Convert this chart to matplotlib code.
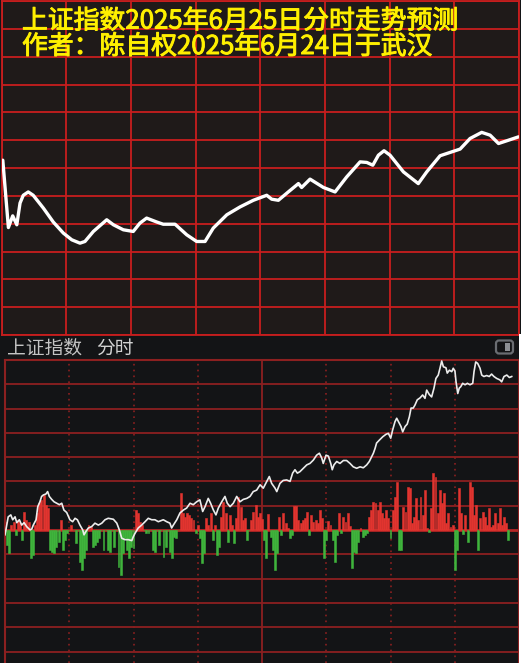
import matplotlib
matplotlib.use("Agg")
import matplotlib.pyplot as plt
import matplotlib.patheffects as pe
from matplotlib.patches import FancyBboxPatch, Rectangle
from matplotlib.transforms import IdentityTransform

plt.rcParams['font.family'] = ['Noto Sans CJK SC', 'DejaVu Sans']

# ---- forecast curve (top panel): minute of session, index points
top_min = [0.6, 3.2, 5.2, 7.1, 8.6, 10.1, 12.4, 14.7, 19.4, 24.0, 28.7, 32.6,
           36.4, 38.7, 42.6, 48.8, 51.9, 56.5, 61.1, 64.2, 67.3, 72.0, 75.0,
           80.5, 85.9, 90.5, 94.4, 98.2, 104.5, 110.6, 116.8, 123.0, 125.3,
           128.4, 133.0, 137.7, 139.2, 143.1, 149.3, 154.7, 160.1, 166.3,
           169.4, 172.2, 174.8, 177.4, 180.2, 186.4, 193.3, 197.2, 203.4,
           212.7, 217.3, 222.7, 226.6, 230.5, 234.4, 239.8]
top_price = [3421.4, 3409.3, 3411.4, 3409.8, 3413.7, 3415.1, 3415.7, 3415.1,
             3412.8, 3410.3, 3408.3, 3407.1, 3406.5, 3406.8, 3408.6, 3410.7,
             3409.8, 3408.9, 3408.6, 3410.1, 3411.0, 3410.3, 3409.9, 3409.9,
             3408.0, 3406.8, 3406.8, 3409.2, 3411.6, 3413.0, 3414.2, 3415.1,
             3414.4, 3414.2, 3415.7, 3417.2, 3416.5, 3418.0, 3416.5, 3415.7,
             3418.4, 3421.1, 3421.0, 3420.5, 3422.3, 3423.1, 3422.3, 3419.3,
             3417.2, 3419.3, 3422.2, 3423.4, 3425.3, 3426.4, 3425.9, 3424.4,
             3424.9, 3425.6]

# ---- actual intraday line (bottom panel)
bot_min = [0, 1.5, 2.7, 3.6, 4.7, 5.5, 6.7, 7.8, 8.9, 10.1, 11.7, 12.5, 13.2,
           14.5, 15.3, 16.3, 17.1, 17.9, 19.1, 19.9, 20.7, 21.8, 22.9, 24.1,
           25.4, 26.5, 27.5, 28.8, 30.3, 31.6, 32.7, 33.8, 35.0, 36.3, 36.9,
           37.8, 38.9, 40.5, 42.0, 43.6, 45.2, 46.7, 48.2, 50.6, 52.2, 53.4,
           54.5, 56.0, 57.6, 59.2, 59.9, 60.7, 62.2, 63.8, 65.4, 66.9, 68.5,
           70.0, 71.6, 73.9, 75.5, 77.0, 77.8, 78.6, 80.2, 81.7, 83.3, 84.8,
           86.4, 87.9, 89.5, 91.0, 92.3, 93.4, 94.9, 96.0, 97.3, 98.5, 99.6,
           101.2, 102.7, 103.8, 105.1, 106.6, 108.2, 109.7, 111.3, 112.9,
           114.4, 115.9, 117.5, 119.1, 120.6, 122.2, 123.4, 124.5, 126.1,
           126.9, 128.4, 129.9, 131.5, 133.1, 134.3, 135.4, 136.5, 137.7,
           139.3, 140.9, 142.4, 144.0, 145.5, 146.8, 147.9, 148.6, 149.9,
           151.0, 152.1, 152.8, 153.6, 154.9, 156.4, 158.0, 159.5, 161.1,
           162.6, 164.2, 165.8, 167.3, 168.9, 170.1, 171.2, 172.0, 172.8,
           173.5, 174.8, 176.4, 177.9, 179.0, 180.1, 181.0, 182.1, 182.9,
           184.1, 184.9, 185.7, 186.8, 187.8, 188.8, 189.6, 190.6, 191.4,
           192.5, 193.8, 195.0, 196.1, 196.9, 198.1, 199.2, 200.3, 201.2,
           202.3, 203.1, 203.9, 204.7, 205.9, 206.5, 207.5, 208.6, 209.3,
           210.1, 210.6, 211.4, 212.1, 212.8, 213.7, 214.8, 215.9, 217.1,
           218.4, 219.0, 219.8, 220.7, 221.8, 222.6, 223.6, 224.9, 226.1,
           227.2, 228.3, 229.6, 231.1, 231.9, 233.0, 234.3, 235.5, 236.6]
bot_price = [3388.5, 3392.2, 3392.6, 3391.6, 3392.2, 3391.0, 3391.6, 3390.5,
             3391.0, 3390.2, 3389.5, 3389.7, 3390.5, 3391.6, 3394.3, 3395.3,
             3396.4, 3396.7, 3396.9, 3397.4, 3396.4, 3395.8, 3395.3, 3395.0,
             3394.7, 3395.0, 3393.6, 3393.1, 3391.6, 3391.2, 3391.9, 3391.6,
             3390.5, 3389.5, 3388.5, 3389.2, 3389.9, 3390.2, 3390.9, 3390.5,
             3390.9, 3391.6, 3391.9, 3391.7, 3390.9, 3389.5, 3387.8, 3387.5,
             3387.5, 3387.3, 3388.1, 3388.8, 3389.9, 3390.5, 3391.2, 3391.9,
             3391.6, 3391.6, 3391.2, 3391.6, 3391.2, 3390.9, 3389.9, 3390.5,
             3391.6, 3393.0, 3393.6, 3394.0, 3395.0, 3394.7, 3395.3, 3395.7,
             3393.3, 3394.3, 3396.0, 3395.0, 3393.6, 3392.6, 3394.0, 3395.3,
             3396.4, 3395.0, 3394.3, 3395.0, 3396.4, 3395.3, 3395.8, 3396.0,
             3396.4, 3397.4, 3397.7, 3398.8, 3398.1, 3399.5, 3400.5, 3399.1,
             3398.1, 3397.4, 3399.1, 3399.7, 3399.8, 3399.5, 3401.2, 3401.9,
             3401.2, 3401.5, 3402.2, 3402.9, 3403.2, 3403.9, 3404.9, 3405.3,
             3404.3, 3403.2, 3404.9, 3404.7, 3403.2, 3401.9, 3402.9, 3403.6,
             3403.2, 3403.8, 3403.8, 3403.2, 3402.5, 3402.2, 3402.5, 3402.3,
             3402.9, 3403.6, 3404.6, 3405.3, 3406.3, 3407.4, 3408.0, 3408.7,
             3409.2, 3409.4, 3408.4, 3410.1, 3411.8, 3412.5, 3411.5, 3410.8,
             3409.7, 3410.8, 3411.3, 3412.8, 3414.6, 3414.6, 3415.2, 3416.3,
             3416.7, 3417.3, 3416.6, 3418.3, 3417.4, 3416.9, 3418.7, 3420.7,
             3421.4, 3422.8, 3424.3, 3423.1, 3422.9, 3421.8, 3422.4, 3422.1,
             3422.8, 3422.2, 3420.0, 3417.6, 3418.7, 3419.0, 3419.7, 3419.4,
             3419.7, 3419.4, 3419.7, 3422.1, 3424.1, 3423.8, 3422.8, 3421.4,
             3421.1, 3421.3, 3421.1, 3421.6, 3421.1, 3420.7, 3420.4, 3420.0,
             3421.1, 3421.4, 3420.9, 3421.1]

# ---- per-minute bars (positive red, negative green), minute 0..235
bar_vals = [3.3, -6.2, -9.5, 2.1, 3.3, -2.1, 4.1, 2.9, -4.1, 7.4,
            4.1, 3.3, -11.5, -10.3, 2.1, 7.0, 11.1, 12.3, 14.4, 10.3,
            9.1, -8.2, -9.1, -9.5, -7.0, -4.9, 4.1, -8.2, -4.1, -1.2,
            0, 2.1, 0, -5.3, 0, -13.2, -16.5, -11.5, -8.2, 2.1,
            1.2, -7.0, -6.2, -4.9, -3.3, 0, -8.2, 0, -8.2, -9.1,
            0, -7.0, 0, -15.2, -18.5, -9.5, -3.3, -8.2, -11.5, -7.0,
            -7.4, 8.2, 7.0, 3.3, 2.1, 0, -1.2, -1.2, 0, -8.2,
            -9.1, 0, -6.2, 0, -11.1, -7.0, 0, -9.1, -11.5, -2.9,
            -3.3, 0, 15.2, 7.0, 5.3, 7.0, 6.2, 4.9, 4.1, -1.2,
            2.1, -3.3, -13.6, -9.5, 4.9, 2.1, 7.0, -4.1, 2.1, -10.3,
            -7.0, 5.3, 11.5, 7.0, -4.9, 6.2, 2.1, -5.3, 4.9, 13.6,
            9.5, 4.1, 4.9, -4.1, 0, 4.1, 7.4, 10.3, 5.3, 7.0,
            4.5, -4.1, -11.5, 6.6, -2.9, -8.2, -16.5, -9.5, 5.3, -2.1,
            7.0, 2.9, 0.8, -3.3, -2.1, 9.9, 9.9, 4.1, 2.9, 4.1,
            4.9, 7.4, -2.1, 6.2, 3.3, 4.1, 2.9, 8.2, 4.9, -11.5,
            -4.1, 3.7, 2.1, -4.1, -13.2, -2.1, 7.0, -1.2, 5.3, 3.3,
            7.0, 1.6, -15.6, -9.1, -9.5, -4.9, 0.8, -2.9, -2.1, -1.2,
            5.3, 8.2, 11.5, 11.1, 8.2, 11.5, 7.0, 4.9, 8.2, 4.9,
            -3.3, 8.2, 13.6, 19.8, -8.2, -8.2, 9.5, 7.4, 17.7, 17.3,
            2.9, 5.3, 13.2, 4.1, 13.6, 6.2, 16.5, 0.8, -0.8, 9.1,
            23.5, 21.8, 7.0, 16.5, 11.1, 15.2, 2.9, 7.0, 1.2, 2.1,
            -16.5, -8.2, 17.3, 7.0, -1.6, 6.2, -4.9, 19.8, 17.7, 6.2,
            10.3, -8.2, 4.9, 7.4, 5.3, 2.1, 9.1, 1.2, 2.1, 7.0,
            2.9, 9.1, 2.1, 5.3, 2.9, -4.1]

title1 = "上证指数2025年6月25日分时走势预测"
title2 = "作者：陈自权2025年6月24日于武汉"

W, H = 521, 663
fig = plt.figure(figsize=(W / 100, H / 100), dpi=100)
fig.patch.set_facecolor('#131416')

def fx(px):
    return px / W

def fy(py):
    return 1 - py / H

# top panel: forecast
red = '#c81e1e'
ax1 = fig.add_axes([fx(1.5), fy(335), (519 - 1.5) / W, 334 / H])
ax1.set_facecolor('#1f1a19')
ax1.set_xlim(0, 240)
ax1.set_ylim(3390, 3450)
ax1.set_xticks(range(0, 241, 30))
ax1.set_yticks(range(3390, 3451, 5))
ax1.grid(True, color=red, lw=1.3)
ax1.tick_params(length=0, labelbottom=False, labelleft=False)
for s in ax1.spines.values():
    s.set_color(red)
    s.set_linewidth(1.3)
ax1.plot(top_min, top_price, color='white', lw=2.4, solid_joinstyle='round',
         solid_capstyle='round', zorder=3)

yel = '#fff000'
thick = [pe.withStroke(linewidth=0.7, foreground=yel)]
fig.text(fx(22), fy(21), title1, color=yel, fontsize=18.6,
         va='center', ha='left', path_effects=thick)
fig.text(fx(22), fy(46.5), title2, color=yel, fontsize=18.6,
         va='center', ha='left', path_effects=thick)

# bottom panel: real intraday
dred = '#8c2020'
ax2 = fig.add_axes([fx(5), 0, 514 / W, 303 / H])
ax2.set_facecolor('#131416')
ax2.set_xlim(0, 240)
ax2.set_ylim(-54.7, 70)
for v in range(-50, 71, 10):
    if v == 0:
        ax2.axhline(v, color='#b52525', lw=2.0, zorder=1)
    else:
        ax2.axhline(v, color=dred, lw=1.3, zorder=0.5)
for m in [30, 60, 90, 150, 180, 210]:
    ax2.axvline(m, color=dred, lw=1.2, ls=(0, (1, 2.5)), zorder=0.5)
ax2.axvline(120, color=dred, lw=1.3, zorder=0.5)
ax2.set_xticks([])
ax2.set_yticks([])
for k, s in ax2.spines.items():
    s.set_color(dred)
    s.set_linewidth(1.5)
ax2.spines['bottom'].set_visible(False)

mins = list(range(len(bar_vals)))
colors = ['#e2342f' if v > 0 else '#3fb43c' for v in bar_vals]
ax2.bar(mins, bar_vals, width=0.9, color=colors, edgecolor=colors,
        linewidth=0.4, zorder=2)

ax3 = ax2.twinx()
ax3.set_ylim(3362.1, 3424.5)
ax3.axis('off')
ax3.plot(bot_min, bot_price, color='#ececec', lw=1.2, zorder=3)

fig.text(fx(7), fy(348), "上证指数", color='#c4c4c4', fontsize=13.5, va='center')
fig.text(fx(96), fy(348), "分时", color='#d2d2d2', fontsize=13.5, va='center')

# small toggle icon and right white edge
ident = IdentityTransform()
fig.add_artist(FancyBboxPatch((496, H - 353.5), 17, 13,
                              boxstyle='round,pad=0,rounding_size=3',
                              transform=ident, fc='none', ec='#6a6d72', lw=1.6))
fig.add_artist(Rectangle((505, H - 351), 5, 8, transform=ident,
                         fc='#8c8f94', ec='none'))
fig.add_artist(Rectangle((519, 0), 2, H - 334, transform=ident,
                         fc='white', ec='none'))

fig.savefig('out.png', dpi=100, facecolor=fig.get_facecolor())
